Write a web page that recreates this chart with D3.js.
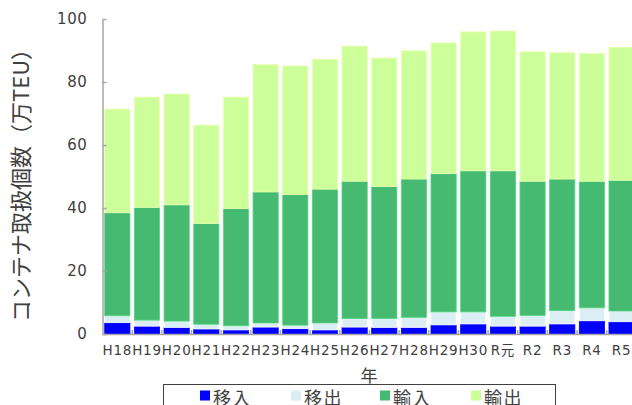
<!DOCTYPE html>
<html lang="ja">
<head>
<meta charset="UTF-8" />
<title>コンテナ取扱個数</title>
<script src="https://d3js.org/d3.v7.min.js"></script>
<style>
  html, body { margin: 0; padding: 0; background: #fff; overflow: hidden; }
  svg { display: block; }
  text { font-family: "DejaVu Sans", "Noto Sans CJK JP", sans-serif; fill: #404040; }
  .jp { font-family: "Noto Sans CJK JP", sans-serif; }
</style>
</head>
<body>
<svg id="chart" width="632" height="405"></svg>
<script>
// 年 (x categories)
const years = ['H18','H19','H20','H21','H22','H23','H24','H25','H26','H27','H28','H29','H30','R元','R2','R3','R4','R5'];

// 万TEU
const iriIn   = [3.6, 2.5, 2.1, 1.6, 1.3, 2.2, 1.7, 1.3, 2.2, 2.1, 2.1, 2.9, 3.2, 2.5, 2.5, 3.2, 4.2, 3.9];      // 移入
const iriOut  = [2.2, 1.9, 2.0, 1.5, 1.3, 1.3, 1.1, 2.2, 2.7, 2.8, 3.2, 4.1, 3.8, 3.1, 3.4, 4.2, 4.1, 3.4];      // 移出
const impVals = [32.7, 35.8, 36.9, 32.0, 37.2, 41.6, 41.5, 42.5, 43.6, 41.9, 43.9, 43.9, 44.8, 46.2, 42.6, 41.8, 40.2, 41.5]; // 輸入
const expVals = [32.9, 35.0, 35.2, 31.2, 35.4, 40.4, 40.8, 41.2, 42.9, 40.8, 40.7, 41.5, 44.1, 44.4, 41.1, 40.1, 40.5, 42.2]; // 輸出

const seriesNames = ['移入', '移出', '輸入', '輸出'];
const seriesColors = ['#0000ff', '#daeef3', '#47ba71', '#ccff99'];
const yTicks = [0, 20, 40, 60, 80, 100];

const svg = d3.select('#chart');

const rows = years.map((y, i) => ({
  year: y,
  '移入': iriIn[i],
  '移出': iriOut[i],
  '輸入': impVals[i],
  '輸出': expVals[i]
}));

const stacked = d3.stack().keys(seriesNames)(rows);

const x = d3.scaleBand()
  .domain(years)
  .range([102.5, 636.4])
  .paddingInner(0.15)
  .paddingOuter(0.075);

const y = d3.scaleLinear()
  .domain([0, 100])
  .range([334, 19]);

const color = d3.scaleOrdinal().domain(seriesNames).range(seriesColors);

// bars
svg.append('g')
  .selectAll('g')
  .data(stacked)
  .join('g')
  .attr('fill', d => color(d.key))
  .attr('stroke', d => d3.color(color(d.key)).brighter(0.4))
  .attr('stroke-width', 0.8)
  .selectAll('rect')
  .data(d => d)
  .join('rect')
  .attr('x', d => x(d.data.year))
  .attr('y', d => y(d[1]))
  .attr('width', x.bandwidth())
  .attr('height', d => y(d[0]) - y(d[1]));

// y axis
const yAxis = svg.append('g')
  .attr('transform', 'translate(102.5,0)')
  .call(d3.axisLeft(y).tickValues(yTicks).tickSizeInner(-4).tickSizeOuter(0).tickPadding(15));
yAxis.select('.domain').attr('stroke', '#a6a6a6').attr('stroke-width', 1.5);
yAxis.selectAll('.tick line').attr('stroke', '#a6a6a6').attr('stroke-width', 1.5);
yAxis.selectAll('.tick text')
  .attr('font-size', 15)
  .attr('letter-spacing', 0.6)
  .attr('font-family', 'DejaVu Sans')
  .attr('fill', '#404040');

// x axis
const xAxis = svg.append('g')
  .attr('transform', 'translate(0,334)')
  .call(d3.axisBottom(x).tickSize(0).tickPadding(11));
xAxis.select('.domain').attr('stroke', '#a6a6a6').attr('stroke-width', 1.5);
xAxis.selectAll('.tick text')
  .attr('font-size', 13.5)
  .attr('letter-spacing', 0.8)
  .attr('font-family', 'DejaVu Sans, Noto Sans CJK JP')
  .attr('fill', '#404040');

// boundary ticks between categories
xAxis.selectAll('line.sep')
  .data(d3.range(1, years.length))
  .join('line')
  .attr('class', 'sep')
  .attr('x1', i => x.range()[0] + i * x.step())
  .attr('x2', i => x.range()[0] + i * x.step())
  .attr('y1', 0)
  .attr('y2', -4)
  .attr('stroke', '#a6a6a6')
  .attr('stroke-width', 1.5);

// axis titles
svg.append('text')
  .attr('class', 'jp')
  .attr('transform', 'translate(19,180) rotate(-90)')
  .attr('text-anchor', 'middle')
  .attr('dominant-baseline', 'central')
  .attr('font-size', 22)
  .text('コンテナ取扱個数（万TEU）');

svg.append('text')
  .attr('class', 'jp')
  .attr('x', 369)
  .attr('y', 374)
  .attr('text-anchor', 'middle')
  .attr('dominant-baseline', 'central')
  .attr('font-size', 17)
  .text('年');

// legend
const legend = svg.append('g');
legend.append('rect')
  .attr('x', 163.5)
  .attr('y', 384.5)
  .attr('width', 392)
  .attr('height', 40)
  .attr('fill', '#fff')
  .attr('stroke', '#404040')
  .attr('stroke-width', 1);

const legendX = [200, 291, 380, 471];
const item = legend.selectAll('g.item')
  .data(seriesNames)
  .join('g')
  .attr('class', 'item')
  .attr('transform', (d, i) => `translate(${legendX[i]},0)`);

item.append('rect')
  .attr('x', 0)
  .attr('y', 390.5)
  .attr('width', 10)
  .attr('height', 10)
  .attr('fill', d => color(d));

item.append('text')
  .attr('class', 'jp')
  .attr('x', 13)
  .attr('y', 405)
  .attr('font-size', 18)
  .attr('letter-spacing', 1.5)
  .text(d => d);
</script>
</body>
</html>
